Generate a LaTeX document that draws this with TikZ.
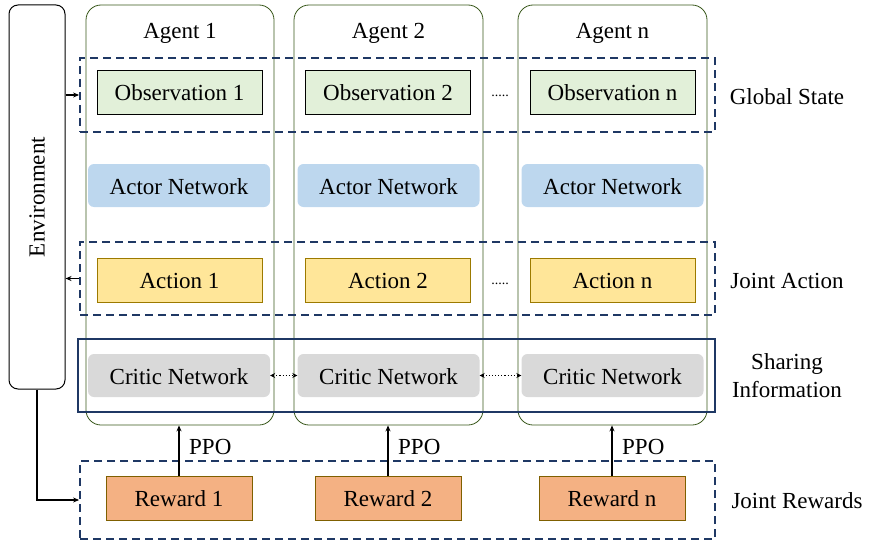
\documentclass[tikz,border=0pt]{standalone}
\usepackage{fontspec}
\IfFontExistsTF{LiberationSerif-Regular.ttf}{\newfontfamily\timesf{LiberationSerif-Regular.ttf}}{\newfontfamily\timesf{Latin Modern Roman}}
\usetikzlibrary{arrows.meta,positioning}
\definecolor{navy}{HTML}{1F3864}
\definecolor{agentgreen}{HTML}{38571A}
\definecolor{obsfill}{HTML}{E2F0D9}
\definecolor{actorfill}{HTML}{BDD7EE}
\definecolor{actfill}{HTML}{FFE699}
\definecolor{actdraw}{HTML}{9C7A00}
\definecolor{criticfill}{HTML}{D9D9D9}
\definecolor{rewfill}{HTML}{F4B183}
\definecolor{rewdraw}{HTML}{7F6000}
\tikzset{
  txt/.style={font=\timesf\fontsize{23}{26}\selectfont, inner sep=0pt, anchor=base},
  agentbox/.style={draw=agentgreen, line width=0.8pt, rounded corners=15pt, inner sep=0pt},
  envbox/.style={draw=black, line width=1pt, rounded corners=9pt, inner sep=0pt},
  groupdash/.style={draw=navy, line width=1.8pt, dash pattern=on 8pt off 5pt, inner sep=0pt},
  groupsolid/.style={draw=navy, line width=1.8pt, inner sep=0pt},
  obsbox/.style={draw=black, line width=0.9pt, fill=obsfill, minimum width=165pt, minimum height=44pt, inner sep=0pt},
  actorbox/.style={fill=actorfill, rounded corners=6pt, minimum width=182pt, minimum height=43pt, inner sep=0pt},
  actbox/.style={draw=actdraw, line width=0.9pt, fill=actfill, minimum width=165pt, minimum height=44pt, inner sep=0pt},
  criticbox/.style={fill=criticfill, rounded corners=6pt, minimum width=182pt, minimum height=43pt, inner sep=0pt},
  rewbox/.style={draw=rewdraw, line width=0.9pt, fill=rewfill, minimum width=146pt, minimum height=44pt, inner sep=0pt},
  arr/.style={-{Stealth[length=6pt,width=5pt]}, line width=1.3pt},
  dotarr/.style={{Stealth[length=5pt,width=5pt]}-{Stealth[length=5pt,width=5pt]}, line width=1.1pt, dotted},
  dots/.style={font=\timesf\fontsize{14}{16}\selectfont, inner sep=0pt, anchor=base}
}
\begin{document}
\begin{tikzpicture}[x=1pt,y=-1pt]
\useasboundingbox (0,0) rectangle (869,543);
% environment
\node[envbox, minimum width=56pt, minimum height=384pt] (env) at (37,197) {};
\node[txt, rotate=90, anchor=center] (envt) at (37,197) {Environment};
% agents
\node[agentbox, minimum width=188pt, minimum height=420pt] (ag1) at (180,215) {};
\node[agentbox, minimum width=189pt, minimum height=420pt] (ag2) at (388.5,215) {};
\node[agentbox, minimum width=189pt, minimum height=420pt] (agn) at (612.5,215) {};
\node[txt] (ag1t) at (180,39) {Agent 1};
\node[txt] (ag2t) at (388.5,39) {Agent 2};
\node[txt] (agnt) at (612.5,39) {Agent n};
% group boxes
\node[groupdash, minimum width=635pt, minimum height=74pt] (gs) at (397.5,95) {};
\node[groupdash, minimum width=635pt, minimum height=73pt] (ja) at (397.5,278.5) {};
\node[groupsolid, minimum width=637pt, minimum height=73pt] (si) at (396.5,375.5) {};
\node[groupdash, minimum width=635pt, minimum height=78pt] (jr) at (397.5,500) {};
% observations
\node[obsbox] (o1) at (179.5,92) {};
\node[obsbox] (o2) at (388,92) {};
\node[obsbox] (on) at (612.5,92) {};
\node[txt] (o1t) at (179.5,100) {Observation 1};
\node[txt] (o2t) at (388,100) {Observation 2};
\node[txt] (ont) at (612.5,100) {Observation n};
\node[dots] (od) at (500,96) {.....};
% actors
\node[actorbox] (a1) at (179,185.5) {};
\node[actorbox] (a2) at (388.5,185.5) {};
\node[actorbox] (an) at (612.5,185.5) {};
\node[txt] (a1t) at (179,194) {Actor Network};
\node[txt] (a2t) at (388.5,194) {Actor Network};
\node[txt] (ant) at (612.5,194) {Actor Network};
% actions
\node[actbox] (ac1) at (179.5,280) {};
\node[actbox] (ac2) at (388,280) {};
\node[actbox] (acn) at (612.5,280) {};
\node[txt] (ac1t) at (179.5,288) {Action 1};
\node[txt] (ac2t) at (388,288) {Action 2};
\node[txt] (acnt) at (612.5,288) {Action n};
\node[dots] (acd) at (500,284) {.....};
% critics
\node[criticbox] (c1) at (179,375.5) {};
\node[criticbox] (c2) at (388.5,375.5) {};
\node[criticbox] (cn) at (612.5,375.5) {};
\node[txt] (c1t) at (179,384) {Critic Network};
\node[txt] (c2t) at (388.5,384) {Critic Network};
\node[txt] (cnt) at (612.5,384) {Critic Network};
% rewards
\node[rewbox] (r1) at (179,498) {};
\node[rewbox] (r2) at (388,498) {};
\node[rewbox] (rn) at (612,498) {};
\node[txt] (r1t) at (179,506) {Reward 1};
\node[txt] (r2t) at (388,506) {Reward 2};
\node[txt] (rnt) at (612,506) {Reward n};
% right labels
\node[txt] (gst) at (787,104) {Global State};
\node[txt] (jat) at (787,288) {Joint Action};
\node[txt] (sit1) at (787,369) {Sharing};
\node[txt] (sit2) at (787,397) {Information};
\node[txt] (jrt) at (797,508) {Joint Rewards};
% connectors
\draw[arr] (env.east |- gs.west) -- (gs.west);
\draw[arr] (ja.west) -- (env.east |- ja.west);
\draw[arr] (env.south) |- (jr.west);
\draw[arr] (r1.north) -- (r1.north |- ag1.south);
\draw[arr] (r2.north) -- (r2.north |- ag2.south);
\draw[arr] (rn.north) -- (rn.north |- agn.south);
\node[txt, anchor=base west] (p1) at (189,454) {PPO};
\node[txt, anchor=base west] (p2) at (398,454) {PPO};
\node[txt, anchor=base west] (pn) at (622,454) {PPO};
\draw[dotarr] (c1.east) -- (c2.west);
\draw[dotarr] (c2.east) -- (cn.west);
\end{tikzpicture}
\end{document}
